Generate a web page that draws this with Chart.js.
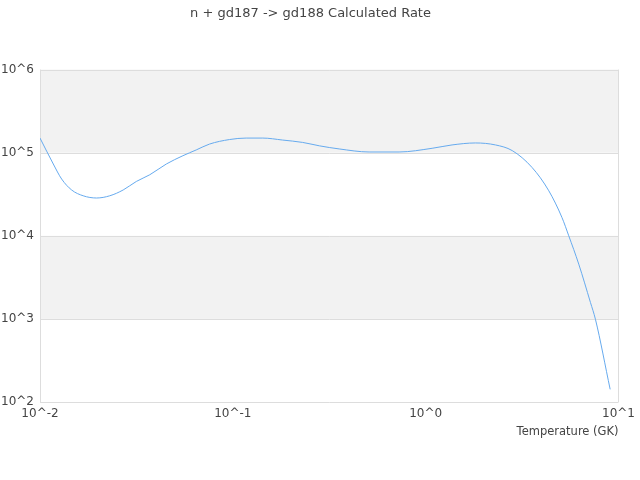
<!DOCTYPE html>
<html>
<head>
<meta charset="utf-8">
<script src="https://cdn.jsdelivr.net/npm/chart.js@4/dist/chart.umd.min.js"></script>
<style>
html,body{margin:0;padding:0;background:#fff;}
#wrap{width:640px;height:480px;}
</style>
</head>
<body>
<div id="wrap"><canvas id="c" width="640" height="480"></canvas></div>
<script>
const chartTitle = "n + gd187 -> gd188 Calculated Rate";
const xAxisTitle = "Temperature (GK)";
const temperatures = [0.01, 0.01172, 0.01295, 0.01459, 0.01675, 0.01965, 0.0230, 0.0270, 0.0316, 0.0371, 0.0452, 0.0551, 0.0646, 0.0757, 0.0961, 0.1173, 0.143, 0.181, 0.230, 0.281, 0.356, 0.509, 0.728, 1.08, 1.37, 1.81, 2.30, 2.81, 3.56, 4.35, 5.09, 5.52, 6.22, 7.15, 7.59, 9.05];
const rates = [1.50e5, 7.31e4, 4.82e4, 3.56e4, 3.03e4, 2.85e4, 3.03e4, 3.56e4, 4.51e4, 5.43e4, 7.31e4, 9.2e4, 1.08e5, 1.27e5, 1.44e5, 1.50e5, 1.50e5, 1.42e5, 1.33e5, 1.21e5, 1.11e5, 1.02e5, 1.02e5, 1.13e5, 1.24e5, 1.31e5, 1.24e5, 1.06e5, 6.65e4, 3.48e4, 1.66e4, 1.0e4, 4.56e3, 1.58e3, 9.9e2, 1.42e2];
const xTicks = [0.01, 0.1, 1, 10];
const xTickLabels = ["10^-2", "10^-1", "10^0", "10^1"];
const yTicks = [100, 1000, 10000, 100000, 1000000];
const yTickLabels = ["10^2", "10^3", "10^4", "10^5", "10^6"];
const shadedBands = [[1e5, 1e6], [1e3, 1e4]];

const bandPlugin = {
  id: 'bands',
  beforeDatasetsDraw(chart) {
    const {ctx, chartArea, scales} = chart;
    ctx.save();
    ctx.fillStyle = '#f2f2f2';
    shadedBands.forEach(b => {
      const y1 = scales.y.getPixelForValue(b[1]);
      const y0 = scales.y.getPixelForValue(b[0]);
      ctx.fillRect(chartArea.left, y1, chartArea.right - chartArea.left, y0 - y1);
    });
    ctx.strokeStyle = '#dddddd';
    ctx.lineWidth = 1;
    yTicks.forEach(v => {
      const y = Math.round(scales.y.getPixelForValue(v)) + 0.5;
      ctx.beginPath(); ctx.moveTo(chartArea.left, y); ctx.lineTo(chartArea.right, y); ctx.stroke();
    });
    const l = Math.round(chartArea.left) + 0.5, r = Math.round(chartArea.right) - 0.5;
    ctx.beginPath(); ctx.moveTo(l, chartArea.top); ctx.lineTo(l, chartArea.bottom); ctx.stroke();
    ctx.beginPath(); ctx.moveTo(r, chartArea.top); ctx.lineTo(r, chartArea.bottom); ctx.stroke();
    ctx.restore();
  }
};

new Chart(document.getElementById('c'), {
  type: 'line',
  data: {
    datasets: [{
      data: temperatures.map((t, i) => ({x: t, y: rates[i]})),
      borderColor: '#66aaee',
      borderWidth: 1,
      pointRadius: 0,
      cubicInterpolationMode: 'monotone',
      fill: false
    }]
  },
  options: {
    responsive: false,
    animation: false,
    layout: {padding: {left: 0, right: 19, top: 0, bottom: 37}},
    plugins: {
      legend: {display: false},
      tooltip: {enabled: false},
      title: {
        display: true,
        text: chartTitle,
        color: '#444',
        font: {family: 'DejaVu Sans', size: 13, weight: 'normal'},
        padding: {top: 6, bottom: 48}
      }
    },
    scales: {
      x: {
        type: 'logarithmic',
        min: 0.01, max: 10,
        afterBuildTicks(s) { s.ticks = xTicks.map(v => ({value: v})); },
        afterFit(s) { s.height = 41; },
        grid: {display: false, drawTicks: false},
        border: {display: false},
        ticks: {
          color: '#444', font: {family: 'DejaVu Sans', size: 12}, padding: 5,
          maxRotation: 0, autoSkip: false,
          callback: (v) => xTickLabels[xTicks.findIndex(t => Math.abs(Math.log10(t) - Math.log10(v)) < 1e-6)]
        },
        title: {
          display: true, text: xAxisTitle, align: 'end', color: '#444',
          font: {family: 'DejaVu Sans', size: 11.5}, padding: {top: 4, bottom: 4}
        }
      },
      y: {
        type: 'logarithmic',
        min: 100, max: 1000000,
        afterBuildTicks(s) { s.ticks = yTicks.map(v => ({value: v})); },
        afterFit(s) { s.width = 40; },
        grid: {display: false, drawTicks: false},
        border: {display: false},
        ticks: {
          color: '#444', font: {family: 'DejaVu Sans', size: 12}, padding: 6,
          autoSkip: false,
          callback: (v) => yTickLabels[yTicks.findIndex(t => Math.abs(Math.log10(t) - Math.log10(v)) < 1e-6)]
        }
      }
    }
  },
  plugins: [bandPlugin]
});
</script>
</body>
</html>
